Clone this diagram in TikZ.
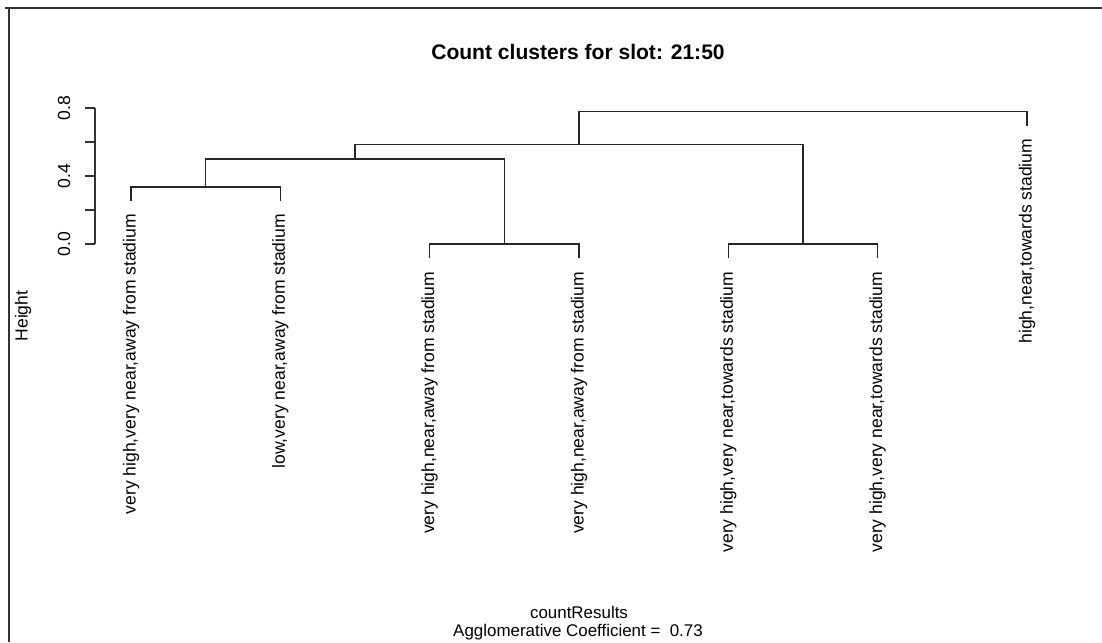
\documentclass[tikz,border=0pt]{standalone}
\usepackage{fontspec}
\setmainfont{Liberation Sans}
\begin{document}
\begin{tikzpicture}[x=0.75pt,y=-0.75pt,
  tree/.style={draw=black!85, line width=1.1pt*0.75, line cap=rect},
  axisline/.style={draw=black!80, line width=1.1pt*0.75},
  frame/.style={draw=black!80, line width=2.4pt*0.75},
  leaflabel/.style={rotate=90, anchor=east, inner sep=0pt, font=\fontsize{13.15}{15}\selectfont},
  ticklabel/.style={rotate=90, anchor=center, inner sep=0pt, font=\fontsize{13.15}{15}\selectfont},
  plaintext/.style={anchor=center, inner sep=0pt, font=\fontsize{12.7}{15}\selectfont}]
\useasboundingbox (0,0) rectangle (1102,642);
\fill[white] (0,0) rectangle (1102,642);

% outer frame (top and left edges)
\draw[frame] (5,8) -- (1102,8);
\draw[frame] (9,8) -- (9,642);

% title
\node[font=\fontsize{15.8}{18}\selectfont\bfseries, inner sep=0pt] (title) at (578,52) {Count clusters for slot: 21:50};

% height axis
\coordinate (ax0) at (95,244);
\coordinate (ax8) at (95,108);
\draw[axisline] (ax0) -- (ax8);
\foreach \v/\y in {0/244,2/210,4/176,6/142,8/108}{
  \draw[axisline] (85,\y) -- (95,\y);
}
\node[ticklabel] (t0) at (64,244) {0.0};
\node[ticklabel] (t4) at (64,176) {0.4};
\node[ticklabel] (t8) at (64,108) {0.8};
\node[ticklabel] (ylab) at (23,316) {Height};

% leaf ends
\coordinate (l1) at (131,200.3);
\coordinate (l2) at (280.3,200.3);
\coordinate (l3) at (429.7,257);
\coordinate (l4) at (579,257);
\coordinate (l5) at (728.3,257.5);
\coordinate (l6) at (877.7,257.5);
\coordinate (l7) at (1027,125);

% merge points
\coordinate (m12) at (205.7,187);
\coordinate (m34) at (504.3,244);
\coordinate (m56) at (803,244);
\coordinate (mA) at (355,159);
\coordinate (mB) at (579,144.5);
\coordinate (root) at (803,111.7);

% dendrogram branches
\draw[tree] (l1) |- (m12) -| (l2);
\draw[tree] (l3) |- (m34) -| (l4);
\draw[tree] (l5) |- (m56) -| (l6);
\draw[tree] (m12) |- (mA) -| (m34);
\draw[tree] (mA) |- (mB) -| (m56);
\draw[tree] (mB) |- (root) -| (l7);

% leaf labels
\node[leaflabel] (n1) at ([yshift=-13.5*0.75pt]l1) {very high,very near,away from stadium};
\node[leaflabel] (n2) at ([yshift=-13.5*0.75pt]l2) {low,very near,away from stadium};
\node[leaflabel] (n3) at ([yshift=-14.5*0.75pt]l3) {very high,near,away from stadium};
\node[leaflabel] (n4) at ([yshift=-14.5*0.75pt]l4) {very high,near,away from stadium};
\node[leaflabel] (n5) at ([yshift=-14*0.75pt]l5) {very high,very near,towards stadium};
\node[leaflabel] (n6) at ([yshift=-14*0.75pt]l6) {very high,very near,towards stadium};
\node[leaflabel] (n7) at ([yshift=-13.5*0.75pt]l7) {high,near,towards stadium};

% bottom captions
\node[plaintext] (xlab) at (579,612) {countResults};
\node[plaintext] (coef) at (578,632) {Agglomerative Coefficient =\ \ 0.73};
\end{tikzpicture}
\end{document}
